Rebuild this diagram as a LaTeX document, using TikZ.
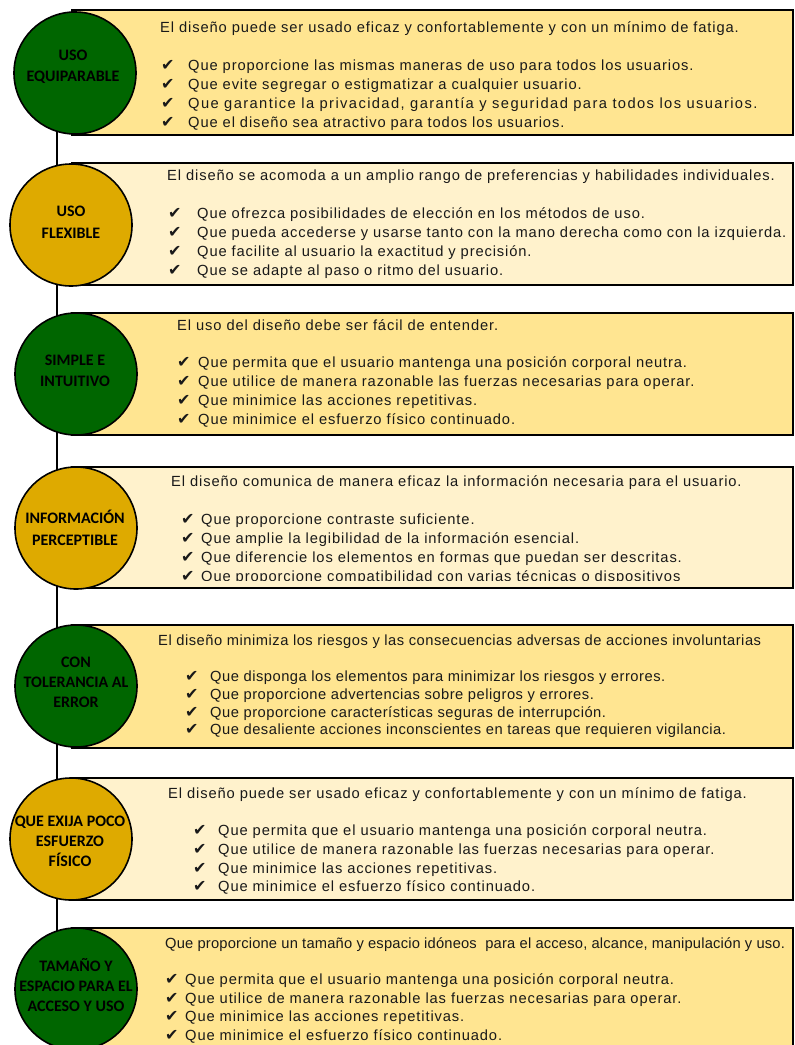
\documentclass[tikz,border=0pt]{standalone}
\usepackage{fontspec}
\setmainfont{Liberation Sans}
\newfontfamily\bodyfont[LetterSpace=6]{Liberation Sans}
\newfontfamily\bodyfontM[LetterSpace=3.5]{Liberation Sans}
\newfontfamily\bodyfontN[LetterSpace=1.3]{Liberation Sans}
\newfontfamily\bodyfontW[LetterSpace=9.5]{Liberation Sans}
\newfontfamily\labfont{Carlito}
\newfontfamily\symfont{DejaVu Sans}
\definecolor{cgreen}{RGB}{0,102,0}
\definecolor{cgold}{RGB}{222,170,0}
\definecolor{fillA}{RGB}{255,229,145}
\definecolor{fillB}{RGB}{255,242,204}
\definecolor{txtc}{RGB}{25,25,25}
\newcommand\ck{{\symfont\fontsize{16}{16}\selectfont ✔}}
\begin{document}
\begin{tikzpicture}[x=1pt,y=-1pt,
  boxA/.style={draw=black,line width=2pt,fill=fillA},
  boxB/.style={draw=black,line width=2pt,fill=fillB},
  circG/.style={circle,draw=black,line width=1.6pt,fill=cgreen,minimum size=122pt,inner sep=0pt},
  circY/.style={circle,draw=black,line width=1.6pt,fill=cgold,minimum size=122pt,inner sep=0pt},
  lab/.style={align=center,inner sep=0pt,text=black,font=\labfont\bfseries\fontsize{16}{21.5}\selectfont},
  lab3/.style={lab,font=\labfont\bfseries\fontsize{16}{20}\selectfont},
  head/.style={anchor=base west,inner sep=0pt,text=txtc,font=\bodyfont\fontsize{14.7}{16}\selectfont},
  itm/.style={anchor=base west,inner sep=0pt,text=txtc,font=\bodyfont\fontsize{14.7}{16}\selectfont},
  itmM/.style={itm,font=\bodyfontM\fontsize{14.7}{16}\selectfont},
  itmN/.style={itm,font=\bodyfontN\fontsize{14.7}{16}\selectfont},
  itmW/.style={itm,font=\bodyfontW\fontsize{14.7}{16}\selectfont},
  chk/.style={anchor=base west,inner sep=0pt,text=txtc}]
\clip (0,0) rectangle (795,1045);
\fill[white] (0,0) rectangle (795,1045);
% timeline
\coordinate (ltop) at (57,130);
\coordinate (lbot) at (57,950);
\draw[line width=2.2pt] (ltop) -- (lbot);
% boxes
\draw[boxA] (72,10) rectangle (793,135);
\draw[boxB] (72,163) rectangle (793,285);
\draw[boxA] (72,313) rectangle (793,435);
\draw[boxB] (72,467) rectangle (793,588);
\draw[boxA] (72,625) rectangle (793,748);
\draw[boxB] (72,778) rectangle (793,900);
\draw[boxA] (72,928) rectangle (793,1060);
% circles
\node[circG] (c1) at (75,73) {};
\node[circY] (c2) at (71,225) {};
\node[circG] (c3) at (76,374) {};
\node[circY] (c4) at (76,528) {};
\node[circG] (c5) at (76,686) {};
\node[circY] (c6) at (71,839) {};
\node[circG] (c7) at (76,989) {};
\node[lab] (l1) at (73,67) {USO\\EQUIPARABLE};
\node[lab] (l2) at (71,222) {USO\\FLEXIBLE};
\node[lab] (l3) at (75,371) {SIMPLE E\\INTUITIVO};
\node[lab] (l4) at (75,528) {INFORMACIÓN\\PERCEPTIBLE};
\node[lab3] (l5) at (76,682) {CON\\TOLERANCIA AL\\ERROR};
\node[lab3] (l6) at (70,841) {QUE EXIJA POCO\\ESFUERZO\\FÍSICO};
\node[lab3] (l7) at (76,985) {TAMAÑO Y\\ESPACIO PARA EL\\ACCESO Y USO};
% section 1
\node[head] (h1) at (160,32) {El diseño puede ser usado eficaz y confortablemente y con un mínimo de fatiga.};
\node[chk] (k11) at (161,70) {\ck}; \node[itm] (t11) at (188,70) {Que proporcione las mismas maneras de uso para todos los usuarios.};
\node[chk] (k12) at (161,89) {\ck}; \node[itm] (t12) at (188,89) {Que evite segregar o estigmatizar a cualquier usuario.};
\node[chk] (k13) at (161,108) {\ck}; \node[itmW] (t13) at (188,108) {Que garantice la privacidad, garantía y seguridad para todos los usuarios.};
\node[chk] (k14) at (161,127) {\ck}; \node[itm] (t14) at (188,127) {Que el diseño sea atractivo para todos los usuarios.};
% section 2
\node[head] (h2) at (167,180) {El diseño se acomoda a un amplio rango de preferencias y habilidades individuales.};
\node[chk] (k21) at (168,218) {\ck}; \node[itm] (t21) at (197,218) {Que ofrezca posibilidades de elección en los métodos de uso.};
\node[chk] (k22) at (168,237) {\ck}; \node[itm] (t22) at (197,237) {Que pueda accederse y usarse tanto con la mano derecha como con la izquierda.};
\node[chk] (k23) at (168,256) {\ck}; \node[itm] (t23) at (197,256) {Que facilite al usuario la exactitud y precisión.};
\node[chk] (k24) at (168,275) {\ck}; \node[itm] (t24) at (197,275) {Que se adapte al paso o ritmo del usuario.};
% section 3
\node[head] (h3) at (177,330) {El uso del diseño debe ser fácil de entender.};
\node[chk] (k31) at (177,367) {\ck}; \node[itm] (t31) at (198,367) {Que permita que el usuario mantenga una posición corporal neutra.};
\node[chk] (k32) at (177,386) {\ck}; \node[itm] (t32) at (198,386) {Que utilice de manera razonable las fuerzas necesarias para operar.};
\node[chk] (k33) at (177,405) {\ck}; \node[itm] (t33) at (198,405) {Que minimice las acciones repetitivas.};
\node[chk] (k34) at (177,424) {\ck}; \node[itm] (t34) at (198,424) {Que minimice el esfuerzo físico continuado.};
% section 4
\node[head] (h4) at (171,486) {El diseño comunica de manera eficaz la información necesaria para el usuario.};
\node[chk] (k41) at (181,524) {\ck}; \node[itm] (t41) at (201,524) {Que proporcione contraste suficiente.};
\node[chk] (k42) at (181,543) {\ck}; \node[itm] (t42) at (201,543) {Que amplie la legibilidad de la información esencial.};
\node[chk] (k43) at (181,562) {\ck}; \node[itm] (t43) at (201,562) {Que diferencie los elementos en formas que puedan ser descritas.};
\begin{scope}
\clip (80,566) rectangle (790,580.5);
\node[chk] (k44) at (181,581) {\ck}; \node[itm] (t44) at (201,581) {Que proporcione compatibilidad con varias técnicas o dispositivos};
\end{scope}
% section 5
\node[head,itmM] (h5) at (158,645) {El diseño minimiza los riesgos y las consecuencias adversas de acciones involuntarias};
\node[chk] (k51) at (185,681) {\ck}; \node[itmM] (t51) at (210,681) {Que disponga los elementos para minimizar los riesgos y errores.};
\node[chk] (k52) at (185,699) {\ck}; \node[itmM] (t52) at (210,699) {Que proporcione advertencias sobre peligros y errores.};
\node[chk] (k53) at (185,717) {\ck}; \node[itmM] (t53) at (210,717) {Que proporcione características seguras de interrupción.};
\node[chk] (k54) at (185,734) {\ck}; \node[itmM] (t54) at (210,734) {Que desaliente acciones inconscientes en tareas que requieren vigilancia.};
% section 6
\node[head] (h6) at (168,798) {El diseño puede ser usado eficaz y confortablemente y con un mínimo de fatiga.};
\node[chk] (k61) at (193,835) {\ck}; \node[itm] (t61) at (218,835) {Que permita que el usuario mantenga una posición corporal neutra.};
\node[chk] (k62) at (193,854) {\ck}; \node[itm] (t62) at (218,854) {Que utilice de manera razonable las fuerzas necesarias para operar.};
\node[chk] (k63) at (193,873) {\ck}; \node[itm] (t63) at (218,873) {Que minimice las acciones repetitivas.};
\node[chk] (k64) at (193,891) {\ck}; \node[itm] (t64) at (218,891) {Que minimice el esfuerzo físico continuado.};
% section 7
\node[head,itmN] (h7) at (165,948) {Que proporcione un tamaño y espacio idóneos\ \ para el acceso, alcance, manipulación y uso.};
\node[chk] (k71) at (165,984) {\ck}; \node[itm] (t71) at (185,984) {Que permita que el usuario mantenga una posición corporal neutra.};
\node[chk] (k72) at (165,1003) {\ck}; \node[itm] (t72) at (185,1003) {Que utilice de manera razonable las fuerzas necesarias para operar.};
\node[chk] (k73) at (165,1021) {\ck}; \node[itm] (t73) at (185,1021) {Que minimice las acciones repetitivas.};
\node[chk] (k74) at (165,1040) {\ck}; \node[itm] (t74) at (185,1040) {Que minimice el esfuerzo físico continuado.};
\end{tikzpicture}
\end{document}
